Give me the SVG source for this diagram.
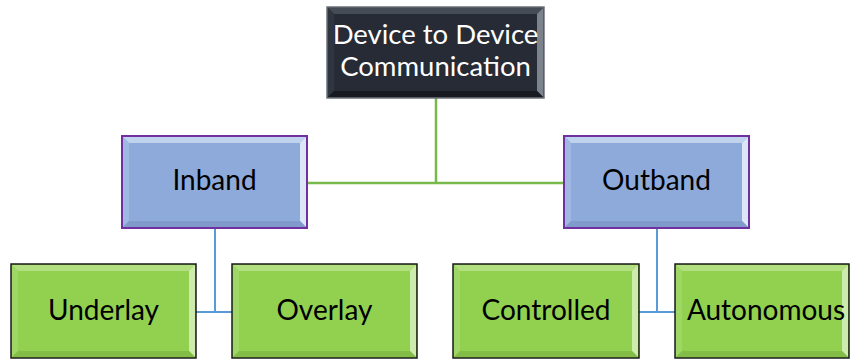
<svg xmlns="http://www.w3.org/2000/svg" width="850" height="359" viewBox="0 0 850 359">
<style>
text{font-family:Lato,"Open Sans","Liberation Sans",sans-serif;font-size:28px;text-anchor:middle}
.dark{fill:#262b35;stroke:#6d7278;stroke-width:1.5}
.darkT{fill:#464c55}.darkL{fill:#30363f}.darkB{fill:#171b21}.darkR{fill:#7d838c}
.blue{fill:#8eaadb;stroke:#7030a0;stroke-width:2}
.blueT{fill:#bfd3ef}.blueL{fill:#9fb8e2}.blueB{fill:#7f9acb}.blueR{fill:#dbe6f6}
.green{fill:#92d050;stroke:#1a1a1a;stroke-width:1.5}
.greenT{fill:#b2e080}.greenL{fill:#9fd766}.greenB{fill:#83bd47}.greenR{fill:#cdebac}
.wt{fill:#ffffff;font-size:27.5px}.bk{fill:#000000}
.cg{stroke:#77b94a;stroke-width:2.5;fill:none}
.cb{stroke:#5b9bd5;stroke-width:2;fill:none}
</style>
<g id="connectors">
<path class="cg" d="M436 98V183M307 183H564"/>
<path class="cb" d="M215 228V312M196 312H232"/>
<path class="cb" d="M657 228V312M639 312H675"/>
</g>
<g id="n-root">
<rect class="dark" x="327" y="7" width="217" height="91"/>
<polygon class="darkT" points="328,8 543,8 537,14 334,14"/>
<polygon class="darkL" points="328,8 334,14 334,91 328,97"/>
<polygon class="darkR" points="543,8 543,97 537,91 537,14"/>
<polygon class="darkB" points="328,97 543,97 537,91 334,91"/>
<text class="wt" x="435.5" y="44">Device to Device</text>
<text class="wt" x="435.5" y="76">Communication</text>
</g>
<g id="n-inband">
<rect class="blue" x="122" y="136" width="185" height="92"/>
<polygon class="blueT" points="123,137 306,137 300,143 129,143"/>
<polygon class="blueL" points="123,137 129,143 129,221 123,227"/>
<polygon class="blueR" points="306,137 306,227 300,221 300,143"/>
<polygon class="blueB" points="123,227 306,227 300,221 129,221"/>
<text class="bk" x="214.5" y="190">Inband</text>
</g>
<g id="n-outband">
<rect class="blue" x="564" y="136" width="185" height="92"/>
<polygon class="blueT" points="565,137 748,137 742,143 571,143"/>
<polygon class="blueL" points="565,137 571,143 571,221 565,227"/>
<polygon class="blueR" points="748,137 748,227 742,221 742,143"/>
<polygon class="blueB" points="565,227 748,227 742,221 571,221"/>
<text class="bk" x="656.5" y="190">Outband</text>
</g>
<g id="n-underlay">
<rect class="green" x="11" y="264" width="185" height="94"/>
<polygon class="greenT" points="12,265 195,265 189,271 18,271"/>
<polygon class="greenL" points="12,265 18,271 18,351 12,357"/>
<polygon class="greenR" points="195,265 195,357 189,351 189,271"/>
<polygon class="greenB" points="12,357 195,357 189,351 18,351"/>
<text class="bk" x="103.5" y="320">Underlay</text>
</g>
<g id="n-overlay">
<rect class="green" x="232" y="264" width="185" height="94"/>
<polygon class="greenT" points="233,265 416,265 410,271 239,271"/>
<polygon class="greenL" points="233,265 239,271 239,351 233,357"/>
<polygon class="greenR" points="416,265 416,357 410,351 410,271"/>
<polygon class="greenB" points="233,357 416,357 410,351 239,351"/>
<text class="bk" x="324.5" y="320">Overlay</text>
</g>
<g id="n-controlled">
<rect class="green" x="453" y="264" width="186" height="94"/>
<polygon class="greenT" points="454,265 638,265 632,271 460,271"/>
<polygon class="greenL" points="454,265 460,271 460,351 454,357"/>
<polygon class="greenR" points="638,265 638,357 632,351 632,271"/>
<polygon class="greenB" points="454,357 638,357 632,351 460,351"/>
<text class="bk" x="546" y="320">Controlled</text>
</g>
<g id="n-autonomous">
<rect class="green" x="675" y="264" width="174" height="94"/>
<polygon class="greenT" points="676,265 848,265 842,271 682,271"/>
<polygon class="greenL" points="676,265 682,271 682,351 676,357"/>
<polygon class="greenR" points="848,265 848,357 842,351 842,271"/>
<polygon class="greenB" points="676,357 848,357 842,351 682,351"/>
<text class="bk" x="766" y="320">Autonomous</text>
</g>
</svg>
